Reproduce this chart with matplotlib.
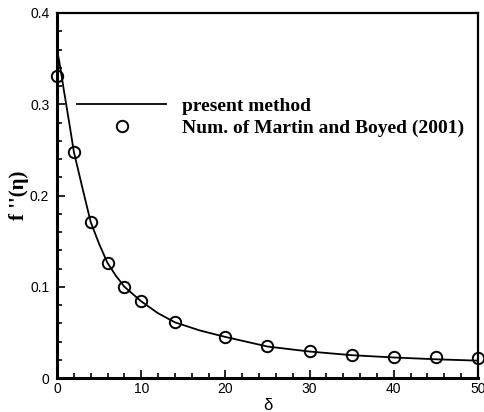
import matplotlib
matplotlib.use("Agg")
import matplotlib.pyplot as plt
from matplotlib.lines import Line2D
from matplotlib.ticker import MultipleLocator, FixedLocator

# Skin friction f''(eta) against delta: present solution curve
delta_curve = [0, 0.25, 0.5, 0.75, 1, 1.5, 2, 3, 4, 5, 6, 7, 8, 9, 10,
               12, 14, 17, 20, 25, 30, 35, 40, 45, 50]
fpp_curve = [0.359, 0.348, 0.334, 0.319, 0.305, 0.277, 0.248, 0.209, 0.171,
             0.147, 0.126, 0.112, 0.100, 0.092, 0.084, 0.071, 0.061, 0.052,
             0.045, 0.0345, 0.029, 0.025, 0.0225, 0.0205, 0.019]

# Reference numerical results (Martin and Boyed, 2001)
delta_ref = [0, 2, 4, 6, 8, 10, 14, 20, 25, 30, 35, 40, 45, 50]
fpp_ref = [0.331, 0.248, 0.171, 0.126, 0.100, 0.084, 0.061, 0.045, 0.035,
           0.030, 0.025, 0.023, 0.023, 0.0215]

x_ticks = [0, 10, 20, 30, 40, 50]
y_ticks = [0, 0.1, 0.2, 0.3, 0.4]
y_tick_labels = ["0", "0.1", "0.2", "0.3", "0.4"]

fig = plt.figure(figsize=(4.85, 4.12), dpi=100)
ax = fig.add_axes([57 / 485, 1 - 378 / 412, (478 - 57) / 485, (378 - 13) / 412])

ax.plot(delta_curve, fpp_curve, color="black", lw=1.3, zorder=3)
ax.plot(delta_ref, fpp_ref, linestyle="none", marker="o", ms=8.2,
        mfc="none", mec="black", mew=1.4, zorder=4, clip_on=False)

ax.set_xlim(0, 50)
ax.set_ylim(0, 0.4)
ax.xaxis.set_major_locator(FixedLocator(x_ticks))
ax.xaxis.set_minor_locator(MultipleLocator(2))
ax.yaxis.set_major_locator(FixedLocator(y_ticks))
ax.yaxis.set_minor_locator(MultipleLocator(0.02))
ax.set_yticklabels(y_tick_labels)

ax.tick_params(which="both", direction="in", top=False, right=False,
               labelsize=10, width=1.2)
ax.tick_params(axis="x", pad=3)
ax.tick_params(axis="y", pad=5.5)
ax.tick_params(which="major", length=6)
ax.tick_params(which="minor", length=3.6)
for lab in ax.get_xticklabels() + ax.get_yticklabels():
    lab.set_fontfamily("Liberation Sans")

for side in ["left", "bottom"]:
    ax.spines[side].set_linewidth(2.2)
for side in ["top", "right"]:
    ax.spines[side].set_linewidth(1.6)

ax.set_xlabel("δ", fontfamily="Liberation Sans", fontsize=12, labelpad=1)
ax.set_ylabel("f ''(η)", fontfamily="Liberation Serif", fontweight="bold",
              fontsize=15, labelpad=1)

handles = [
    Line2D([], [], color="black", lw=1.3),
    Line2D([], [], linestyle="none", marker="o", ms=8.2, mfc="none",
           mec="black", mew=1.4),
]
ax.legend(handles, ["present method", "Num. of Martin and Boyed (2001)"],
          loc="upper left", bbox_to_anchor=(0.0475, 0.768), frameon=False,
          prop={"family": "Liberation Serif", "weight": "bold", "size": 14},
          handlelength=4.58, handletextpad=0.82, labelspacing=0.19,
          borderaxespad=0, borderpad=0)

fig.savefig("out.png", dpi=100)
